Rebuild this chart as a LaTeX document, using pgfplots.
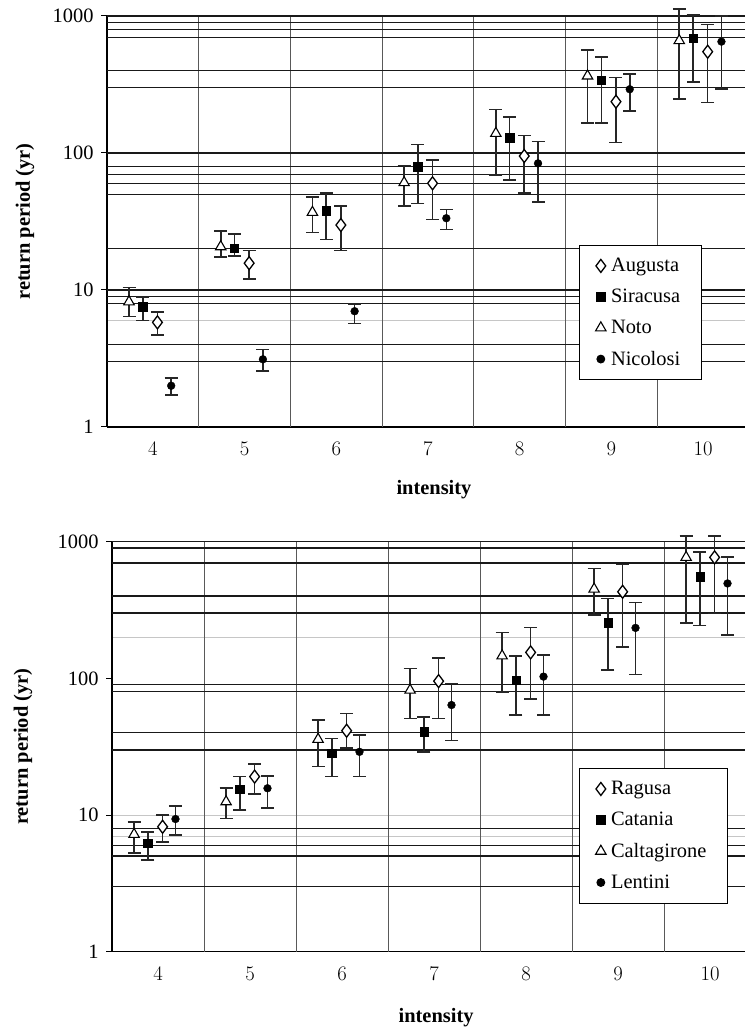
\documentclass[border=0pt]{standalone}
\usepackage{fontspec}
\setmainfont{Liberation Serif}
\usepackage{pgfplots}
\usepackage{pgfplotstable}
\pgfplotsset{compat=1.18}

% x y lo hi  (return period, with lower/upper bounds)
\pgfplotstableread{
x y lo hi
4.05 5.8 4.7 6.9
5.05 15.7 12.0 19.4
6.05 29.8 19.4 41.0
7.05 60.1 32.8 88.9
8.05 95 51.3 134
9.05 237 119 355
10.05 549 234 869
}\augusta
\pgfplotstableread{
x y lo hi
3.89 7.55 6.0 8.9
4.89 20.2 17.7 25.5
5.89 37.9 23.4 51.3
6.89 79.5 42.7 115.7
7.89 129 63.2 184
8.89 341 165 500
9.89 687 331 1017
}\siracusa
\pgfplotstableread{
x y lo hi
3.74 8.2 6.4 10.4
4.74 20.7 17.5 27
5.74 36.9 26.2 47.5
6.74 60.7 41.2 80.8
7.74 139 69.1 208
8.74 365 165 565
9.74 661 247 1120
}\noto
\pgfplotstableread{
x y lo hi
4.2 2.0 1.71 2.27
5.2 3.12 2.56 3.69
6.2 7.0 5.7 7.87
7.2 33.4 27.7 38.8
8.2 84 43.7 121
9.2 292 203 377
10.2 650 292 1000
}\nicolosi

\pgfplotstableread{
x y lo hi
4.05 8.21 6.38 10.0
5.05 19.1 14.3 23.6
6.05 41.4 30.8 55.4
7.05 95.5 51 141.5
8.05 155 71 236
9.05 430 170 682
10.05 768 299 1100
}\ragusa
\pgfplotstableread{
x y lo hi
3.89 6.21 4.69 7.55
4.89 15.4 10.9 19.1
5.89 28.3 19.1 36.4
6.89 40.7 29.0 51.9
7.89 97.2 53.9 146
8.89 255 115 385
9.89 554 243 844
}\catania
\pgfplotstableread{
x y lo hi
3.74 7.22 5.30 8.93
4.74 12.5 9.46 15.8
5.74 35.8 22.6 49.5
6.74 82 51 118
7.74 146 79.8 217
8.74 450 290 638
9.74 768 253 1100
}\caltagirone
\pgfplotstableread{
x y lo hi
4.19 9.35 7.14 11.6
5.19 15.7 11.3 19.4
6.19 29.0 19.1 38.5
7.19 63.8 35 91.9
8.19 103 53.9 148
9.19 234 107 360
10.19 495 207 776
}\lentini

\newcommand{\fs}{\fontsize{20.5}{24}\selectfont}

\pgfplotsset{
  every axis/.append style={
    scale only axis, clip=false,
    axis x line*=bottom, axis y line*=left,
    axis line style={black, line width=1.3bp, -},
    tick align=outside, major tick length=6bp,
    tick style={black, line width=1bp},
    ticklabel style={font=\fs},
    label style={font=\fs},
    legend cell align=left,
    legend style={draw=black, line width=1bp, fill=white, font=\fs,
      inner xsep=16bp, inner ysep=11bp, row sep=12bp, anchor=north west,
      nodes={inner xsep=5bp}},
  },
}
\pgfplotsset{
  ebars/.style={only marks, black,
    error bars/y dir=both, error bars/y explicit,
    error bars/error bar style={black!85, line width=1.6bp},
    error bars/error mark options={rotate=90, mark size=6.5bp, line width=1.6bp}},
}

\begin{document}
\begin{tikzpicture}
\useasboundingbox (0,0) rectangle (745bp,1030bp);

% upper panel
\begin{axis}[at={(107bp,603bp)}, anchor=south west,
  width=638bp, height=411bp, xmin=3.5, xmax=10.457,
  ymode=log, ymin=1, ymax=1000,
  xtick={4,...,10}, x tick style={draw=none},
  ytick={1,10,100,1000}, yticklabels={1,10,100,1000},
  minor ytick={6}, minor tick length=0pt, yminorgrids=true,
  minor grid style={gray!45, line width=0.9bp},
  extra x ticks={4.5,5.5,...,9.5}, extra x tick labels={},
  extra x tick style={grid=major, major grid style={black!65, line width=1bp}},
  extra y ticks={3,4,8,9,10,20,50,60,70,80,100,300,400,700,800,900,1000},
  extra y tick labels={},
  extra y tick style={grid=major, major grid style={black!90, line width=1.4bp}, major tick length=0pt},
  xticklabel style={yshift=-6bp}, yticklabel style={xshift=-4bp},
  xlabel={\bfseries intensity}, ylabel={\bfseries return period (yr)},
  x label style={at={(axis description cs:0.5125,-0.153)}, anchor=center},
  y label style={at={(axis description cs:-0.1285,0.5)}, anchor=center},
  legend style={at={(axis description cs:0.74,0.443)}},
]
\addplot[ebars, mark=diamond*, mark size=6.5bp, mark options={fill=white, line width=1.3bp}]
  table[x=x, y=y, y error plus expr=\thisrow{hi}-\thisrow{y}, y error minus expr=\thisrow{y}-\thisrow{lo}] {\augusta};
\addlegendentry{Augusta}
\addplot[ebars, mark=square*, mark size=4.2bp]
  table[x=x, y=y, y error plus expr=\thisrow{hi}-\thisrow{y}, y error minus expr=\thisrow{y}-\thisrow{lo}] {\siracusa};
\addlegendentry{Siracusa}
\addplot[ebars, mark=triangle*, mark size=6bp, mark options={fill=white, line width=1.1bp}]
  table[x=x, y=y, y error plus expr=\thisrow{hi}-\thisrow{y}, y error minus expr=\thisrow{y}-\thisrow{lo}] {\noto};
\addlegendentry{Noto}
\addplot[ebars, mark=*, mark size=3.9bp]
  table[x=x, y=y, y error plus expr=\thisrow{hi}-\thisrow{y}, y error minus expr=\thisrow{y}-\thisrow{lo}] {\nicolosi};
\addlegendentry{Nicolosi}
\end{axis}

% lower panel
\begin{axis}[at={(112bp,78.3bp)}, anchor=south west,
  width=633bp, height=410bp, xmin=3.5, xmax=10.38,
  ymode=log, ymin=1, ymax=1000,
  xtick={4,...,10}, x tick style={draw=none},
  ytick={1,10,100,1000}, yticklabels={1,10,100,1000},
  minor ytick={7,10,200}, minor tick length=0pt, yminorgrids=true,
  minor grid style={gray!45, line width=0.9bp},
  extra x ticks={4.5,5.5,...,9.5}, extra x tick labels={},
  extra x tick style={grid=major, major grid style={black!65, line width=1bp}},
  extra y ticks={3,5,6,8,30,40,80,90,300,400,700,900,1000},
  extra y tick labels={},
  extra y tick style={grid=major, major grid style={black!90, line width=1.4bp}, major tick length=0pt},
  xticklabel style={yshift=-6bp}, yticklabel style={xshift=-4bp},
  xlabel={\bfseries intensity}, ylabel={\bfseries return period (yr)},
  x label style={at={(axis description cs:0.512,-0.161)}, anchor=center},
  y label style={at={(axis description cs:-0.1406,0.5)}, anchor=center},
  legend style={at={(axis description cs:0.738,0.448)}},
]
\addplot[ebars, mark=diamond*, mark size=6.5bp, mark options={fill=white, line width=1.3bp}]
  table[x=x, y=y, y error plus expr=\thisrow{hi}-\thisrow{y}, y error minus expr=\thisrow{y}-\thisrow{lo}] {\ragusa};
\addlegendentry{Ragusa}
\addplot[ebars, mark=square*, mark size=4.2bp]
  table[x=x, y=y, y error plus expr=\thisrow{hi}-\thisrow{y}, y error minus expr=\thisrow{y}-\thisrow{lo}] {\catania};
\addlegendentry{Catania}
\addplot[ebars, mark=triangle*, mark size=6bp, mark options={fill=white, line width=1.1bp}]
  table[x=x, y=y, y error plus expr=\thisrow{hi}-\thisrow{y}, y error minus expr=\thisrow{y}-\thisrow{lo}] {\caltagirone};
\addlegendentry{Caltagirone}
\addplot[ebars, mark=*, mark size=3.9bp]
  table[x=x, y=y, y error plus expr=\thisrow{hi}-\thisrow{y}, y error minus expr=\thisrow{y}-\thisrow{lo}] {\lentini};
\addlegendentry{Lentini}
\end{axis}
\end{tikzpicture}
\end{document}
